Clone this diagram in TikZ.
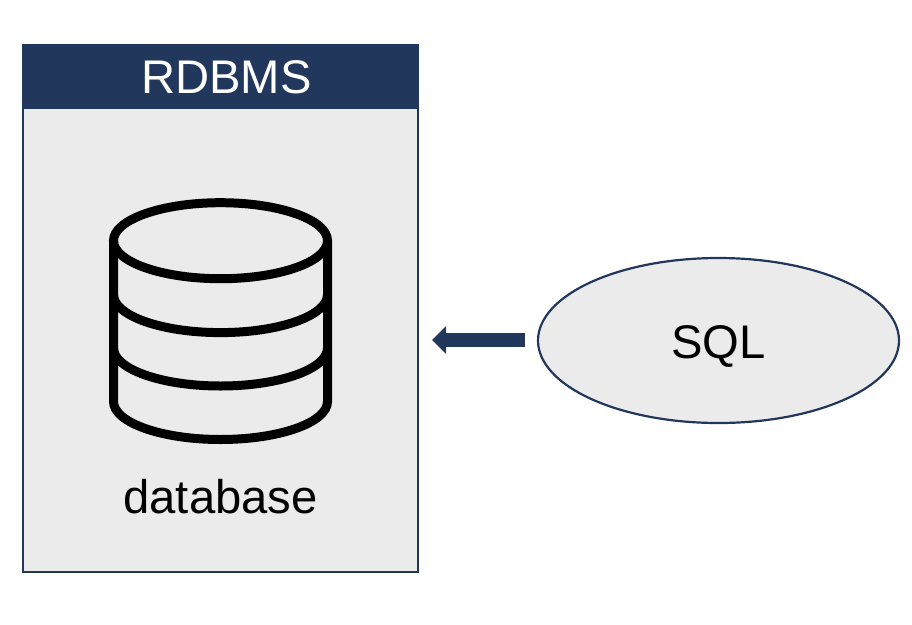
\documentclass[tikz,border=0pt]{standalone}
\usepackage{fontspec}
\setmainfont{Liberation Sans}
\usetikzlibrary{arrows.meta,shapes.geometric}
\definecolor{navy}{HTML}{21375B}
\definecolor{panel}{HTML}{EBEBEB}
\tikzset{
  px/.style={x=1pt,y=-1pt},
  panelbox/.style={draw=navy,fill=panel,line width=2.2pt,minimum width=395pt,minimum height=527pt,inner sep=0pt},
  headerbox/.style={draw=navy,fill=navy,line width=2.2pt,minimum width=395pt,minimum height=63pt,inner sep=0pt},
  label/.style={font=\fontsize{47.2pt}{50pt}\selectfont,anchor=base,inner sep=0pt},
  sqlshape/.style={ellipse,draw=navy,fill=panel,line width=2.2pt,minimum width=361pt,minimum height=165pt,inner sep=0pt},
  cyl/.style={draw=black,line width=9pt,line cap=round},
  flow/.style={draw=navy,line width=14pt,-{Triangle[length=14pt,width=27pt,fill=navy]}}
}
\begin{document}
\begin{tikzpicture}[px]
\useasboundingbox (0,0) rectangle (912,624);
\node[panelbox] (panel) at (220.5,308.5) {};
\node[headerbox] (header) at (220.5,76.5) {};
\node[label,text=white] (rdbms) at (226.5,93) {RDBMS};
% database icon
\draw[cyl] (220.5,240.7) ellipse [x radius=107,y radius=38];
\draw[cyl] (113.5,240.7) -- (113.5,401.5) arc[start angle=180,end angle=360,x radius=107,y radius=-38] -- (327.5,240.7);
\draw[cyl] (113.5,294.6) arc[start angle=180,end angle=360,x radius=107,y radius=-38];
\draw[cyl] (113.5,348) arc[start angle=180,end angle=360,x radius=107,y radius=-38];
\node[label] (database) at (220.5,513) {database};
\node[sqlshape] (sql) at (718.5,340.5) {};
\node[label] (sqltext) at (718.5,358) {SQL};
\coordinate (arrowstart) at (525,340);
\coordinate (arrowend) at (432,340);
\draw[flow] (arrowstart) -- (arrowend);
\end{tikzpicture}
\end{document}
